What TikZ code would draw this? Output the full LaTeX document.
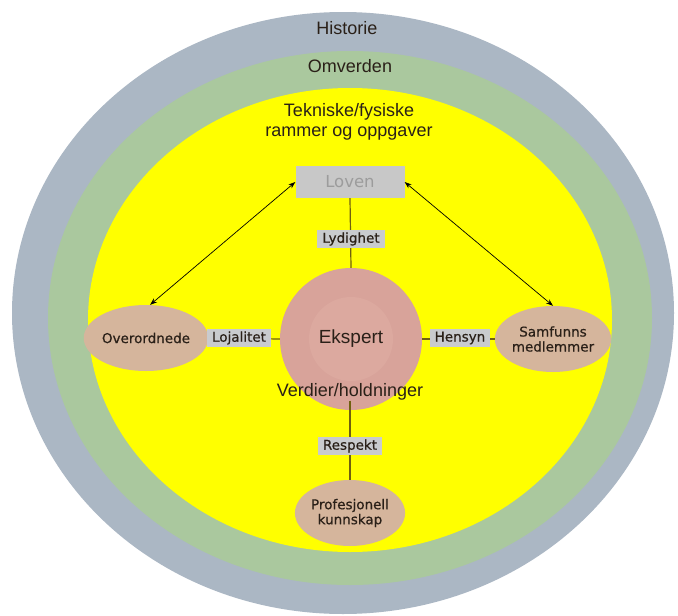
\documentclass[tikz,border=0pt]{standalone}
\usepackage{fontspec}
\setmainfont{Liberation Sans}
\newfontfamily\dvs[FakeBold=0.6]{DejaVu Sans}
\newfontfamily\dvl{DejaVu Sans}
\usetikzlibrary{arrows.meta,shapes.geometric}
\definecolor{histc}{HTML}{ABB7C4}
\definecolor{omvc}{HTML}{AAC89E}
\definecolor{yelc}{HTML}{FFFF00}
\definecolor{tanc}{HTML}{D5B59C}
\definecolor{ekc}{HTML}{D8A39A}
\definecolor{ekin}{HTML}{DCA99F}
\definecolor{boxc}{HTML}{C9CBCE}
\definecolor{lovenc}{HTML}{C8C8C8}
\definecolor{lovtxt}{HTML}{9C9C9C}
\definecolor{linec}{HTML}{6F6010}
\definecolor{txtc}{HTML}{2A2018}
\begin{document}
\begin{tikzpicture}[x=1pt,y=-1pt,
  biglabel/.style={font=\fontsize{18}{20.5}\selectfont, text=txtc, align=center, inner sep=0pt},
  tanell/.style={ellipse, fill=tanc, minimum width=106pt, minimum height=66pt, inner sep=0pt,
    font=\dvs\fontsize{13.5}{15}\selectfont, text=txtc, align=center},
  relbox/.style={fill=boxc, minimum height=18pt, inner xsep=5pt, inner ysep=0pt,
    font=\dvs\fontsize{13.5}{15}\selectfont, text=txtc},
  conn/.style={draw=linec, line width=1.2pt},
  dbl/.style={draw=black, line width=0.7pt, {Stealth[length=7pt,width=5pt]}-{Stealth[length=7pt,width=5pt]}}
]
\useasboundingbox (0,0) rectangle (678,616);
\fill[white] (0,0) rectangle (678,616);
% rings
\fill[histc] (343,313) ellipse [x radius=331pt, y radius=301pt];
\fill[omvc] (350,318) ellipse [x radius=302pt, y radius=267pt];
\fill[yelc] (350,320) ellipse [x radius=262pt, y radius=232pt];
% ring labels
\node[biglabel] (hist) at (347,28) {Historie};
\node[biglabel] (omv) at (350,66) {Omverden};
\node[biglabel] (tek) at (349,122) {Tekniske/fysiske\\rammer og oppgaver};
% main nodes
\node[fill=lovenc, minimum width=109pt, minimum height=32pt, inner sep=0pt,
  font=\dvl\fontsize{16.5}{18}\selectfont, text=lovtxt] (loven) at (350,182) {Loven};
\node[circle, fill=ekc, minimum size=142pt, inner sep=0pt,
  path picture={\fill[ekin] (path picture bounding box.center) circle (42pt);},
  font=\fontsize{19}{21}\selectfont, text=txtc] (ek) at (351,339) {Ekspert};
\node[biglabel] (verd) at (350,392) {Verdier/holdninger};
\node[tanell] (over) at (146,338) {Overordnede};
\node[tanell] (samf) at (553,339) {Samfunns\\medlemmer};
\node[tanell] (prof) at (350,513) {Profesjonell\\kunnskap};
% connectors
\draw[conn] (loven.south) -- (ek.north);
\draw[conn] (over.east) -- (ek.west);
\draw[conn] (ek.east) -- (samf.west);
\draw[conn] (verd.south) -- (prof.north);
\draw[dbl] (loven.west) -- (over.83);
\draw[dbl] (loven.east) -- (samf.north);
% relation boxes
\node[relbox] (lyd) at (351,239) {Lydighet};
\node[relbox] (loj) at (239,338) {Lojalitet};
\node[relbox] (hen) at (460,338) {Hensyn};
\node[relbox] (resp) at (350,446) {Respekt};
\end{tikzpicture}
\end{document}
